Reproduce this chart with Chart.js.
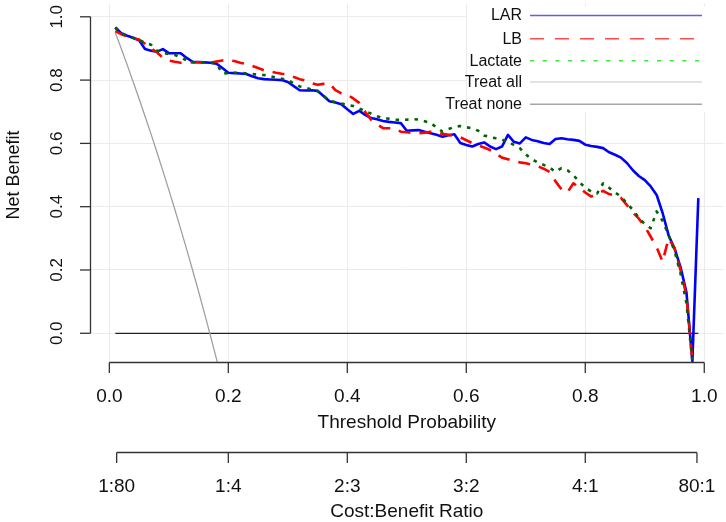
<!DOCTYPE html>
<html>
<head>
<meta charset="utf-8">
<script src="https://cdn.jsdelivr.net/npm/chart.js@4.4.1/dist/chart.umd.min.js"></script>
<style>
  html, body { margin: 0; padding: 0; background: #fff; }
  canvas { display: block; }
</style>
</head>
<body>
<canvas id="dca" width="726" height="522"></canvas>
<script>
// ─── DATA ───
const thresholds = [
  0.01, 0.02, 0.03, 0.04, 0.05, 0.06, 0.07, 0.08, 0.09, 0.10,
  0.11, 0.12, 0.13, 0.14, 0.15, 0.16, 0.17, 0.18, 0.19, 0.20,
  0.21, 0.22, 0.23, 0.24, 0.25, 0.26, 0.27, 0.28, 0.29, 0.30,
  0.31, 0.32, 0.33, 0.34, 0.35, 0.36, 0.37, 0.38, 0.39, 0.40,
  0.41, 0.42, 0.43, 0.44, 0.45, 0.46, 0.47, 0.48, 0.49, 0.50,
  0.51, 0.52, 0.53, 0.54, 0.55, 0.56, 0.57, 0.58, 0.59, 0.60,
  0.61, 0.62, 0.63, 0.64, 0.65, 0.66, 0.67, 0.68, 0.69, 0.70,
  0.71, 0.72, 0.73, 0.74, 0.75, 0.76, 0.77, 0.78, 0.79, 0.80,
  0.81, 0.82, 0.83, 0.84, 0.85, 0.86, 0.87, 0.88, 0.89, 0.90,
  0.91, 0.92, 0.93, 0.94, 0.95, 0.96, 0.97, 0.98, 0.99
];

const lar = [
  0.966, 0.948, 0.940, 0.934, 0.926, 0.898, 0.893, 0.890, 0.898, 0.885,
  0.885, 0.885, 0.870, 0.858, 0.857, 0.856, 0.855, 0.852, 0.838, 0.823,
  0.822, 0.821, 0.819, 0.812, 0.806, 0.803, 0.802, 0.801, 0.800, 0.794,
  0.781, 0.768, 0.767, 0.768, 0.766, 0.750, 0.733, 0.729, 0.724, 0.708,
  0.693, 0.703, 0.690, 0.680, 0.676, 0.671, 0.668, 0.666, 0.664, 0.640,
  0.641, 0.642, 0.637, 0.632, 0.627, 0.621, 0.626, 0.629, 0.601, 0.595,
  0.590, 0.598, 0.603, 0.590, 0.582, 0.590, 0.627, 0.605, 0.600, 0.619,
  0.611, 0.607, 0.601, 0.598, 0.614, 0.616, 0.613, 0.611, 0.608, 0.596,
  0.592, 0.589, 0.585, 0.572, 0.564, 0.555, 0.538, 0.515, 0.497, 0.484,
  0.464, 0.437, 0.380, 0.310, 0.268, 0.210, 0.130, -0.088, 0.427
];

const lb = [
  0.955, 0.945, 0.938, 0.932, 0.928, 0.915, 0.900, 0.888, 0.870, 0.862,
  0.858, 0.855, 0.855, 0.856, 0.856, 0.856, 0.855, 0.859, 0.862, 0.864,
  0.860, 0.855, 0.851, 0.845, 0.838, 0.831, 0.827, 0.823, 0.820, 0.818,
  0.810, 0.803, 0.798, 0.790, 0.785, 0.788, 0.790, 0.768, 0.758, 0.754,
  0.742, 0.728, 0.700, 0.675, 0.660, 0.648, 0.648, 0.647, 0.637, 0.635,
  0.633, 0.632, 0.634, 0.637, 0.634, 0.630, 0.627, 0.624, 0.619, 0.610,
  0.601, 0.594, 0.587, 0.579, 0.568, 0.555, 0.550, 0.544, 0.540, 0.537,
  0.533, 0.528, 0.520, 0.510, 0.480, 0.455, 0.445, 0.474, 0.460, 0.445,
  0.432, 0.440, 0.450, 0.440, 0.435, 0.428, 0.405, 0.382, 0.362, 0.338,
  0.305, 0.272, 0.226, 0.300, 0.270, 0.200, 0.120, -0.088, null
];

const lactate = [
  0.966, 0.948, 0.940, 0.933, 0.926, 0.918, 0.912, 0.893, 0.886, 0.882,
  0.879, 0.872, 0.862, 0.857, 0.856, 0.856, 0.855, 0.852, 0.821, 0.822,
  0.823, 0.823, 0.821, 0.819, 0.817, 0.816, 0.812, 0.808, 0.804, 0.800,
  0.790, 0.780, 0.776, 0.770, 0.765, 0.750, 0.736, 0.730, 0.726, 0.722,
  0.718, 0.710, 0.702, 0.694, 0.686, 0.680, 0.678, 0.675, 0.674, 0.675,
  0.677, 0.675, 0.670, 0.665, 0.650, 0.637, 0.645, 0.652, 0.655, 0.651,
  0.648, 0.640, 0.625, 0.620, 0.616, 0.612, 0.605, 0.595, 0.585, 0.565,
  0.550, 0.540, 0.532, 0.524, 0.510, 0.522, 0.515, 0.500, 0.478, 0.460,
  0.448, 0.442, 0.474, 0.460, 0.445, 0.432, 0.410, 0.390, 0.365, 0.345,
  0.332, 0.385, 0.355, 0.310, 0.260, 0.190, 0.095, -0.088, null
];

const treatAllX = [0.01, 0.02, 0.03, 0.04, 0.05, 0.06, 0.07, 0.08, 0.09, 0.10,
                   0.11, 0.12, 0.13, 0.14, 0.15, 0.16, 0.17, 0.18, 0.19];
const treatAllY = [0.950, 0.900, 0.848, 0.795, 0.741, 0.686, 0.630, 0.572, 0.513, 0.453,
                   0.392, 0.329, 0.265, 0.199, 0.132, 0.063, -0.008, -0.080, -0.154];

const treatNoneX = [0.01, 0.99];
const treatNoneY = [0, 0];

const probTicks = [0, 0.2, 0.4, 0.6, 0.8, 1.0];
const probLabels = ['0.0', '0.2', '0.4', '0.6', '0.8', '1.0'];
const netTicks = [0, 0.2, 0.4, 0.6, 0.8, 1.0];
const netLabels = ['0.0', '0.2', '0.4', '0.6', '0.8', '1.0'];
const ratioTicks = [0.0123, 0.2, 0.4, 0.6, 0.8, 0.9877];
const ratioLabels = ['1:80', '1:4', '2:3', '3:2', '4:1', '80:1'];

const legendNames = ['LAR', 'LB', 'Lactate', 'Treat all', 'Treat none'];

// ─── STYLE ───
const FONT = '"Liberation Sans", Arial, Helvetica, sans-serif';
const INK = '#111';
const AXIS = '#333';

const legendStyle = [
  { color: '#5c5cff', dash: [] },
  { color: '#ff4d4d', dash: [14, 11] },
  { color: '#33ee33', dash: [4, 8.7] },
  { color: '#d9d9d9', dash: [] },
  { color: '#a6a6a6', dash: [] }
];
const legendY = [15.5, 38.7, 60.7, 82, 104.3];

const pts = (xs, ys) => xs.map((x, i) => ({ x: x, y: ys[i] }));

// ─── R-STYLE AXES + LEGEND ───
const rDecor = {
  id: 'rDecor',
  afterDatasetsDraw(chart) {
    const { ctx } = chart;
    ctx.save();
    // white legend box over the grid
    ctx.fillStyle = '#fff';
    ctx.fillRect(467, 7, 726 - 467, 105);
    ctx.font = '16px ' + FONT;
    ctx.textAlign = 'right';
    ctx.textBaseline = 'middle';
    legendNames.forEach((name, i) => {
      const ly = legendY[i];
      ctx.fillStyle = INK;
      ctx.fillText(name, 522, ly + 0.5);
      ctx.strokeStyle = legendStyle[i].color;
      ctx.lineWidth = 1.6;
      ctx.setLineDash(legendStyle[i].dash);
      ctx.beginPath();
      ctx.moveTo(530, ly);
      ctx.lineTo(702, ly);
      ctx.stroke();
    });
    ctx.restore();
  },
  afterDraw(chart) {
    const { ctx, chartArea: ca } = chart;
    const x = chart.scales.x, y = chart.scales.y;
    const seg = (x1, y1, x2, y2) => { ctx.beginPath(); ctx.moveTo(x1, y1); ctx.lineTo(x2, y2); ctx.stroke(); };
    ctx.save();
    ctx.strokeStyle = AXIS;
    ctx.lineWidth = 1.3;
    ctx.fillStyle = INK;

    // y axis (left)
    const ax = Math.round(ca.left) + 0.5;
    seg(ax, y.getPixelForValue(netTicks[0]), ax, y.getPixelForValue(netTicks[netTicks.length - 1]));
    ctx.font = '17px ' + FONT;
    ctx.textAlign = 'center';
    ctx.textBaseline = 'middle';
    netTicks.forEach((v, i) => {
      const py = y.getPixelForValue(v);
      seg(ax - 10.5, py, ax, py);
      ctx.save();
      ctx.translate(57, py);
      ctx.rotate(-Math.PI / 2);
      ctx.fillText(netLabels[i], 0, 0);
      ctx.restore();
    });
    ctx.save();
    ctx.translate(14, (y.getPixelForValue(0) + y.getPixelForValue(1)) / 2);
    ctx.rotate(-Math.PI / 2);
    ctx.font = '18px ' + FONT;
    ctx.fillText('Net Benefit', 0, 0);
    ctx.restore();

    // x axis: threshold probability
    const ay = Math.round(ca.bottom) + 0.5;
    seg(x.getPixelForValue(probTicks[0]), ay, x.getPixelForValue(probTicks[probTicks.length - 1]), ay);
    ctx.font = '19px ' + FONT;
    probTicks.forEach((v, i) => {
      const px = x.getPixelForValue(v);
      seg(px, ay, px, ay + 10.5);
      ctx.fillText(probLabels[i], px, 397);
    });
    ctx.fillText('Threshold Probability', (x.getPixelForValue(0) + x.getPixelForValue(1)) / 2, 423);

    // second x axis: cost:benefit ratio
    const by = 452.5;
    seg(x.getPixelForValue(ratioTicks[0]), by, x.getPixelForValue(ratioTicks[ratioTicks.length - 1]), by);
    ratioTicks.forEach((v, i) => {
      const px = x.getPixelForValue(v);
      seg(px, by, px, by + 10.5);
      ctx.fillText(ratioLabels[i], px, 487);
    });
    ctx.fillText('Cost:Benefit Ratio', (x.getPixelForValue(0) + x.getPixelForValue(1)) / 2, 512);
    ctx.restore();
  }
};

// ─── CHART ───
new Chart(document.getElementById('dca'), {
  type: 'line',
  data: {
    datasets: [
      { label: 'Lactate', data: pts(thresholds, lactate), borderColor: '#006400', borderWidth: 2.6,
        borderDash: [3.5, 6], order: 1 },
      { label: 'LB', data: pts(thresholds, lb), borderColor: '#ff0000', borderWidth: 2.6,
        borderDash: [12, 9], order: 2 },
      { label: 'LAR', data: pts(thresholds, lar), borderColor: '#0000ff', borderWidth: 2.6, order: 3 },
      { label: 'Treat all', data: pts(treatAllX, treatAllY), borderColor: '#a0a0a0', borderWidth: 1.3, order: 4 },
      { label: 'Treat none', data: pts(treatNoneX, treatNoneY), borderColor: '#222', borderWidth: 1.3, order: 5 }
    ]
  },
  options: {
    responsive: false,
    animation: false,
    events: [],
    layout: { padding: { left: 90, right: 2.4, top: 3.5, bottom: 159.6 } },
    elements: {
      point: { radius: 0, hoverRadius: 0 },
      line: { tension: 0, fill: false, borderCapStyle: 'butt', borderJoinStyle: 'round' }
    },
    plugins: { legend: { display: false }, tooltip: { enabled: false } },
    scales: {
      x: {
        type: 'linear', min: -0.0325, max: 1.0325,
        afterBuildTicks: s => { s.ticks = probTicks.map(v => ({ value: v })); },
        ticks: { display: false },
        grid: { color: '#ebebeb', lineWidth: 1, drawTicks: false },
        border: { display: false }
      },
      y: {
        type: 'linear', min: -0.092, max: 1.042,
        afterBuildTicks: s => { s.ticks = netTicks.map(v => ({ value: v })); },
        ticks: { display: false },
        grid: { color: '#ebebeb', lineWidth: 1, drawTicks: false },
        border: { display: false }
      }
    }
  },
  plugins: [rDecor]
});
</script>
</body>
</html>
